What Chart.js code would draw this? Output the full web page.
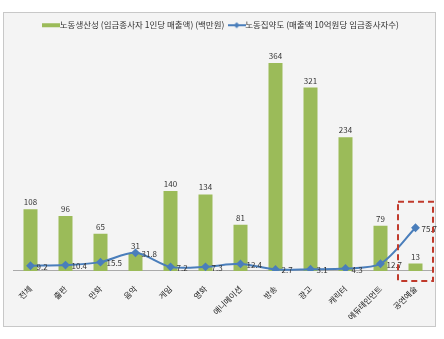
<!DOCTYPE html>
<html>
<head>
<meta charset="utf-8">
<script src="https://cdn.jsdelivr.net/npm/chart.js@4"></script>
<style>
  body { margin: 0; background: #fff; }
  #box {
    position: absolute; left: 3px; top: 12px;
    width: 433px; height: 315px;
    box-sizing: border-box;
    border: 1px solid #c8c8c8;
    background: #f4f4f4;
  }
  #chart { position: absolute; left: 0; top: 0; display: block; }
</style>
</head>
<body>
<div id="box"></div>
<canvas id="chart" width="444" height="339"></canvas>
<script>
const categories = ["전체", "출판", "만화", "음악", "게임", "영화", "애니메이션", "방송", "광고", "캐릭터", "에듀테인먼트", "공연예술"];
const productivity = [108, 96, 65, 31, 140, 134, 81, 364, 321, 234, 79, 13];
const intensity = [9.2, 10.4, 15.5, 31.8, 7.2, 7.3, 12.4, 2.7, 3.1, 4.3, 12.7, 75.7];
const seriesNames = ["노동생산성 (임금종사자 1인당 매출액) (백만원)", "노동집약도 (매출액 10억원당 임금종사자수)"];

const FONT = "'Noto Sans CJK KR', 'Noto Sans', sans-serif";
const GREEN = "#9bbb59";
const BLUE = "#4a7ebb";

// legend swatches
function swatch(kind) {
  const c = document.createElement("canvas");
  c.width = 18; c.height = 8;
  const g = c.getContext("2d");
  if (kind === "bar") {
    g.fillStyle = GREEN;
    g.fillRect(0, 2, 18, 4);
  } else {
    g.strokeStyle = BLUE; g.lineWidth = 2;
    g.beginPath(); g.moveTo(0, 4); g.lineTo(18, 4); g.stroke();
    g.fillStyle = BLUE;
    g.beginPath(); g.moveTo(9, 1); g.lineTo(12, 4); g.lineTo(9, 7); g.lineTo(6, 4); g.closePath(); g.fill();
  }
  return c;
}

const valueLabels = {
  id: "valueLabels",
  afterDatasetsDraw(chart) {
    const ctx = chart.ctx;
    ctx.save();
    ctx.font = "8px " + FONT;
    ctx.fillStyle = "#333";
    const bars = chart.getDatasetMeta(0).data;
    ctx.textAlign = "center";
    ctx.textBaseline = "bottom";
    bars.forEach((b, i) => ctx.fillText(productivity[i], b.x, b.y - 3));
    const pts = chart.getDatasetMeta(1).data;
    ctx.textAlign = "left";
    ctx.textBaseline = "middle";
    pts.forEach((p, i) => ctx.fillText(intensity[i].toFixed(1), p.x + 6, p.y + 1));
    ctx.restore();
  }
};

// red dashed highlight around the last category
const highlight = {
  id: "highlight",
  afterDraw(chart) {
    const x = chart.scales.x, y = chart.scales.y;
    const last = categories.length - 1;
    const cx = x.getPixelForValue(last);
    const half = (x.getPixelForValue(1) - x.getPixelForValue(0)) / 2;
    const top = y.getPixelForValue(intensity[last]) - 26;
    const bottom = y.bottom + 10;
    const ctx = chart.ctx;
    ctx.save();
    ctx.strokeStyle = "#c0392b";
    ctx.lineWidth = 2;
    ctx.setLineDash([6, 4]);
    ctx.strokeRect(cx - half, top, half * 2, bottom - top);
    ctx.restore();
  }
};

new Chart(document.getElementById("chart"), {
  type: "bar",
  data: {
    labels: categories,
    datasets: [{
      label: seriesNames[0],
      data: productivity,
      backgroundColor: GREEN,
      barPercentage: 0.8,
      categoryPercentage: 0.5,
      order: 2
    }, {
      type: "line",
      label: seriesNames[1],
      data: intensity,
      borderColor: BLUE,
      backgroundColor: BLUE,
      borderWidth: 2,
      pointStyle: "rectRot",
      pointRadius: 3,
      tension: 0.3,
      order: 1
    }]
  },
  options: {
    responsive: false,
    animation: false,
    layout: { padding: { left: 13, right: 11, top: 13, bottom: 12 } },
    plugins: {
      tooltip: { enabled: false },
      legend: {
        position: "top",
        labels: {
          font: { family: FONT, size: 8.5 },
          color: "#333",
          usePointStyle: true,
          padding: 8,
          generateLabels(chart) {
            return chart.data.datasets.map((ds, i) => ({
              text: ds.label,
              datasetIndex: i,
              pointStyle: swatch(i === 0 ? "bar" : "line"),
              fontColor: "#333",
              lineWidth: 0,
              hidden: false
            }));
          }
        }
      }
    },
    scales: {
      x: {
        grid: { display: false },
        border: { display: true, color: "#aaa", width: 1 },
        ticks: {
          font: { family: FONT, size: 8 },
          color: "#222",
          padding: 5,
          maxRotation: 45,
          minRotation: 45,
          autoSkip: false
        }
      },
      y: {
        display: false,
        min: 0,
        max: 405
      }
    }
  },
  plugins: [valueLabels, highlight]
});
</script>
</body>
</html>
